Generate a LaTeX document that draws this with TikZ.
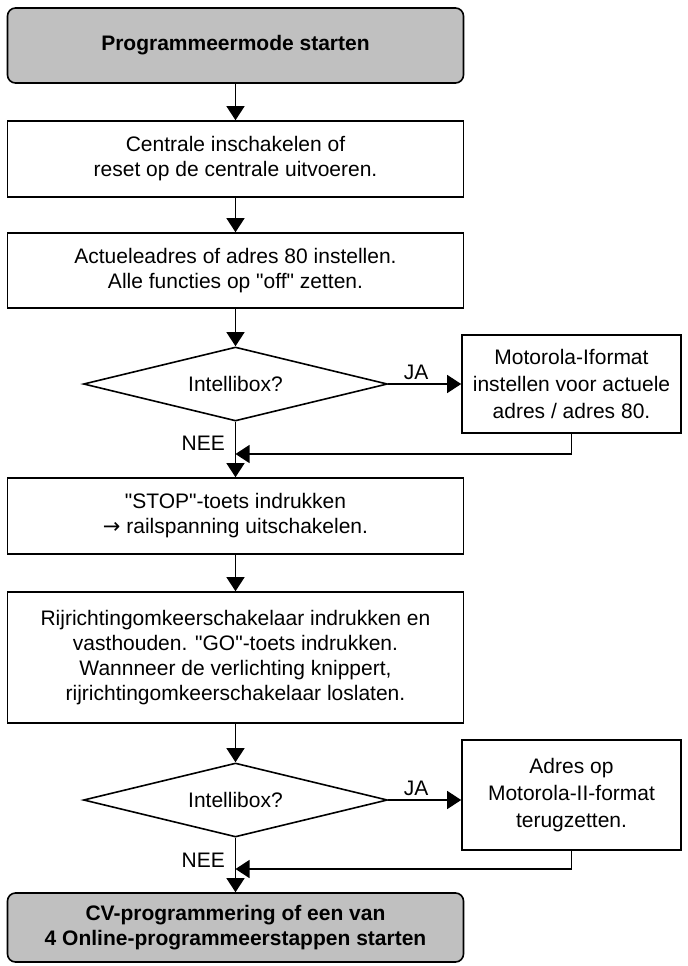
\documentclass[tikz,border=0pt]{standalone}
\usepackage{fontspec}
\setmainfont{Liberation Sans}
\newfontfamily\pijlfont{DejaVu Sans}
\usetikzlibrary{shapes.geometric,arrows.meta}
\definecolor{grijs}{RGB}{192,192,192}
\newcommand{\aanh}[1]{\textquotedbl #1\textquotedbl}
\tikzset{
	tekst/.style={font=\fontsize{10.5}{12.5}\selectfont},
	stap/.style={draw,tekst,line width=0.8pt,align=center,minimum width=228pt,inner sep=0pt},
	eind/.style={stap,rounded corners=4pt,fill=grijs,font=\fontsize{10.5}{12.5}\selectfont\bfseries},
	keuze/.style={draw,diamond,aspect=4,tekst,line width=0.8pt,minimum width=152pt,minimum height=37pt,inner sep=0pt},
	zij/.style={draw,tekst,line width=0.8pt,align=center,minimum width=109.5pt,inner sep=0pt,font=\fontsize{10.5}{13.5}\selectfont},
	pijl/.style={line width=0.6pt,-{Triangle[length=7pt,width=9pt]}},
	keuzetekst/.style={tekst,inner sep=2pt}
}
\begin{document}
\begin{tikzpicture}[x=0.5pt,y=-0.5pt]
	\useasboundingbox (0,0) rectangle (688,966);
	% hoofdkolom
	\node [eind,minimum height=37.5pt] (start) at (235.5,45.5) {Programmeermode starten};
	\node [stap,minimum height=38pt] (aan) at (235.5,159) {Centrale inschakelen of\\reset op de centrale uitvoeren.};
	\node [stap,minimum height=37.5pt] (adres) at (235.5,270.5) {Actueleadres of adres 80 instellen.\\ Alle functies op \aanh{off} zetten.};
	\node [keuze] (ib1) at (235.5,384) {Intellibox?};
	\node [stap,minimum height=38pt] (stop) at (235.5,516) {\aanh{STOP}-toets indrukken\\{\pijlfont →} railspanning uitschakelen.};
	\node [stap,minimum height=65.5pt] (rijr) at (235.5,657.5) {Rijrichtingomkeerschakelaar indrukken en\\vasthouden. \aanh{GO}-toets indrukken.\\Wannneer de verlichting knippert,\\rijrichtingomkeerschakelaar loslaten.};
	\node [keuze] (ib2) at (235.5,800) {Intellibox?};
	\node [eind,minimum height=34.5pt] (cv) at (235.5,927.5) {CV-programmering of een van\\4 Online-programmeerstappen starten};
	% zijtakken
	\node [zij,minimum height=49pt] (mm1) at (571.5,384) {Motorola-Iformat\\instellen voor actuele\\adres / adres 80.};
	\node [zij,minimum height=55pt] (mm2) at (571.5,795) {Adres op\\Motorola-II-format\\terugzetten.};
	\coordinate (terug1) at (235.5,454);
	\coordinate (terug2) at (235.5,869);
	% pijlen
	\draw [pijl] (start) -- (aan);
	\draw [pijl] (aan) -- (adres);
	\draw [pijl] (adres) -- (ib1);
	\draw [pijl] (ib1.east) -- node[above,pos=0.38,keuzetekst]{JA} (ib1.east -| mm1.west);
	\draw [pijl] (ib1.south) -- node[left,pos=0.38,inner sep=5pt,tekst]{NEE} (stop.north);
	\draw [pijl] (mm1.south) |- (terug1);
	\draw [pijl] (stop) -- (rijr);
	\draw [pijl] (rijr) -- (ib2);
	\draw [pijl] (ib2.east) -- node[above,pos=0.38,keuzetekst]{JA} (ib2.east -| mm2.west);
	\draw [pijl] (ib2.south) -- node[left,pos=0.42,inner sep=5pt,tekst]{NEE} (cv.north);
	\draw [pijl] (mm2.south) |- (terug2);
\end{tikzpicture}
\end{document}
